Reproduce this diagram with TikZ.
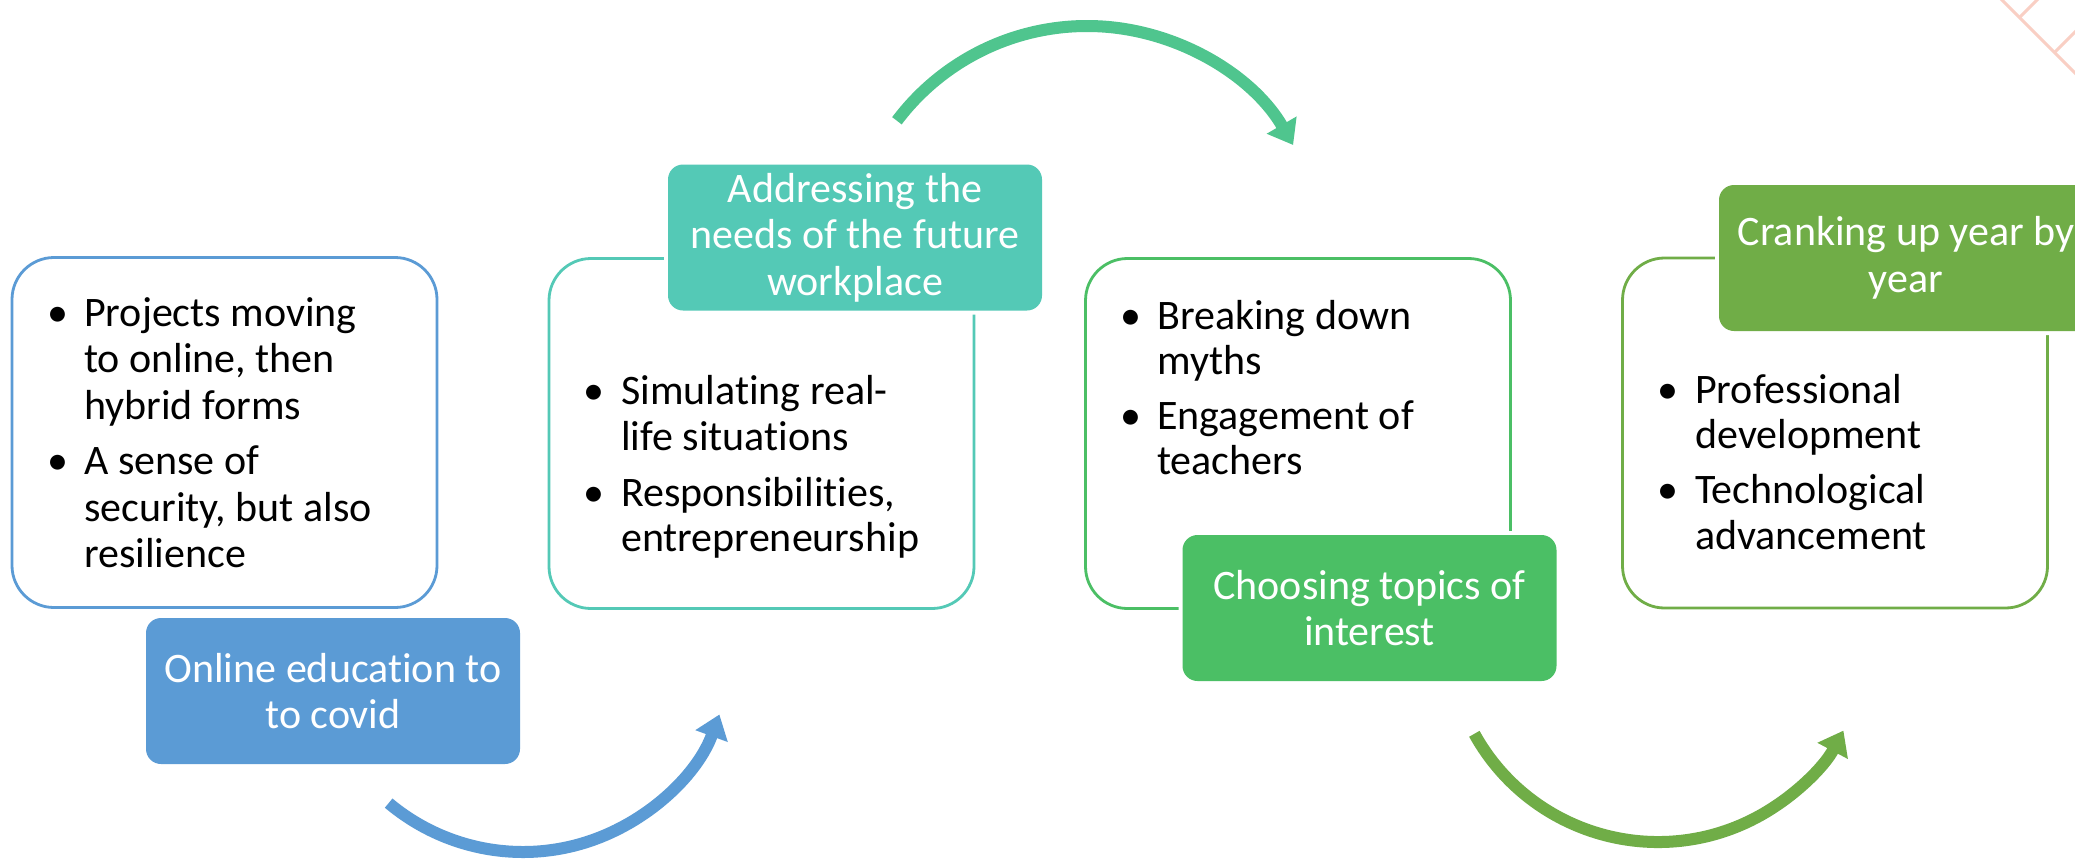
\documentclass[tikz,border=0pt]{standalone}
\usepackage{fontspec}
\setmainfont{Carlito}[Ligatures=NoCommon]
\usetikzlibrary{arrows.meta,calc}
\definecolor{cblue}{HTML}{5B9BD5}
\definecolor{cteal}{HTML}{54C9B6}
\definecolor{cmint}{HTML}{4FC58E}
\definecolor{cgreen}{HTML}{4BBF65}
\definecolor{colive}{HTML}{70AD47}
\definecolor{cpink}{HTML}{F9CFC4}
\tikzset{
  box/.style={draw, line width=2.8pt, rounded corners=42pt, minimum width=425pt, minimum height=350pt, inner sep=0pt, fill=white},
  lab/.style={rounded corners=15pt, minimum width=374pt, minimum height=146pt, inner sep=0pt,
    preaction={draw=white, line width=8pt}, text=white, align=center,
    font=\fontsize{42}{46.5}\selectfont},
  txt/.style={anchor=base west, inner sep=0pt, font=\fontsize{42}{46.5}\selectfont},
  bul/.style={anchor=base, inner sep=0pt, font=\fontsize{42}{46.5}\selectfont},
  curvearrow/.style={line width=12pt, -{Triangle[length=23pt, width=33pt]}},
  deco/.style={cpink, line width=3pt}
}
\begin{document}
\begin{tikzpicture}[x=1pt, y=-1pt]
\clip (0,0) rectangle (2075,865);
\fill[white] (0,0) rectangle (2075,865);
% decorative lines top right
\draw[deco] (1997,-5) -- (2080,78);
\draw[deco] (2020,17) -- (2043,-6);
\draw[deco] (2055,52) -- (2080,27);
% boxes
\node[box, draw=cblue]  (box1) at (224.5,432.5) {};
\node[box, draw=cteal]  (box2) at (761.5,433.5) {};
\node[box, draw=cgreen] (box3) at (1298,433.5) {};
\node[box, draw=colive] (box4) at (1835,433) {};
% labels
\node[lab, fill=cblue]  (lab1) at (333,691)   {Online education to\\to covid};
\node[lab, fill=cteal]  (lab2) at (855,237.5) {Addressing the\\needs of the future\\workplace};
\node[lab, fill=cgreen] (lab3) at (1369.5,608) {Choosing topics of\\interest};
\node[lab, fill=colive] (lab4) at (1906,258)  {Cranking up year by\\year};
% box 1 text
\node[bul] (b1a) at (57.5,326.5) {•};
\node[txt] (t1a) at (84,326.5) {Projects moving};
\node[txt] (t1b) at (84,372.5) {to online, then};
\node[txt] (t1c) at (84,419) {hybrid forms};
\node[bul] (b1b) at (57.5,474.5) {•};
\node[txt] (t1d) at (84,474.5) {A sense of};
\node[txt] (t1e) at (84,521) {security, but also};
\node[txt] (t1f) at (84,567.5) {resilience};
% box 2 text
\node[bul] (b2a) at (594,404) {•};
\node[txt] (t2a) at (621,404) {Simulating real-};
\node[txt] (t2b) at (621,450) {life situations};
\node[bul] (b2b) at (594,506) {•};
\node[txt] (t2c) at (621,506) {Responsibilities,};
\node[txt] (t2d) at (621,551) {entrepreneurship};
% box 3 text
\node[bul] (b3a) at (1130.5,329) {•};
\node[txt] (t3a) at (1157,329) {Breaking down};
\node[txt] (t3b) at (1157,374) {myths};
\node[bul] (b3b) at (1130.5,429) {•};
\node[txt] (t3c) at (1157,429) {Engagement of};
\node[txt] (t3d) at (1157,474) {teachers};
% box 4 text
\node[bul] (b4a) at (1668,403) {•};
\node[txt] (t4a) at (1695,403) {Professional};
\node[txt] (t4b) at (1695,448.5) {development};
\node[bul] (b4b) at (1668,503.5) {•};
\node[txt] (t4c) at (1695,503.5) {Technological};
\node[txt] (t4d) at (1695,549) {advancement};
% curved arrows
\coordinate (c1) at (523,643);
\coordinate (c2) at (1087,264);
\coordinate (c3) at (1658,632);
\coordinate (a1s) at ($(c1)+(130:209)$);
\coordinate (a2s) at ($(c2)+(217:238)$);
\coordinate (a3s) at ($(c3)+(151:210)$);
\draw[curvearrow, cblue]  (a1s) arc[start angle=130, end angle=20, radius=209];
\draw[curvearrow, cmint]  (a2s) arc[start angle=217, end angle=330, radius=238];
\draw[curvearrow, colive] (a3s) arc[start angle=151, end angle=28, radius=210];
\end{tikzpicture}
\end{document}
